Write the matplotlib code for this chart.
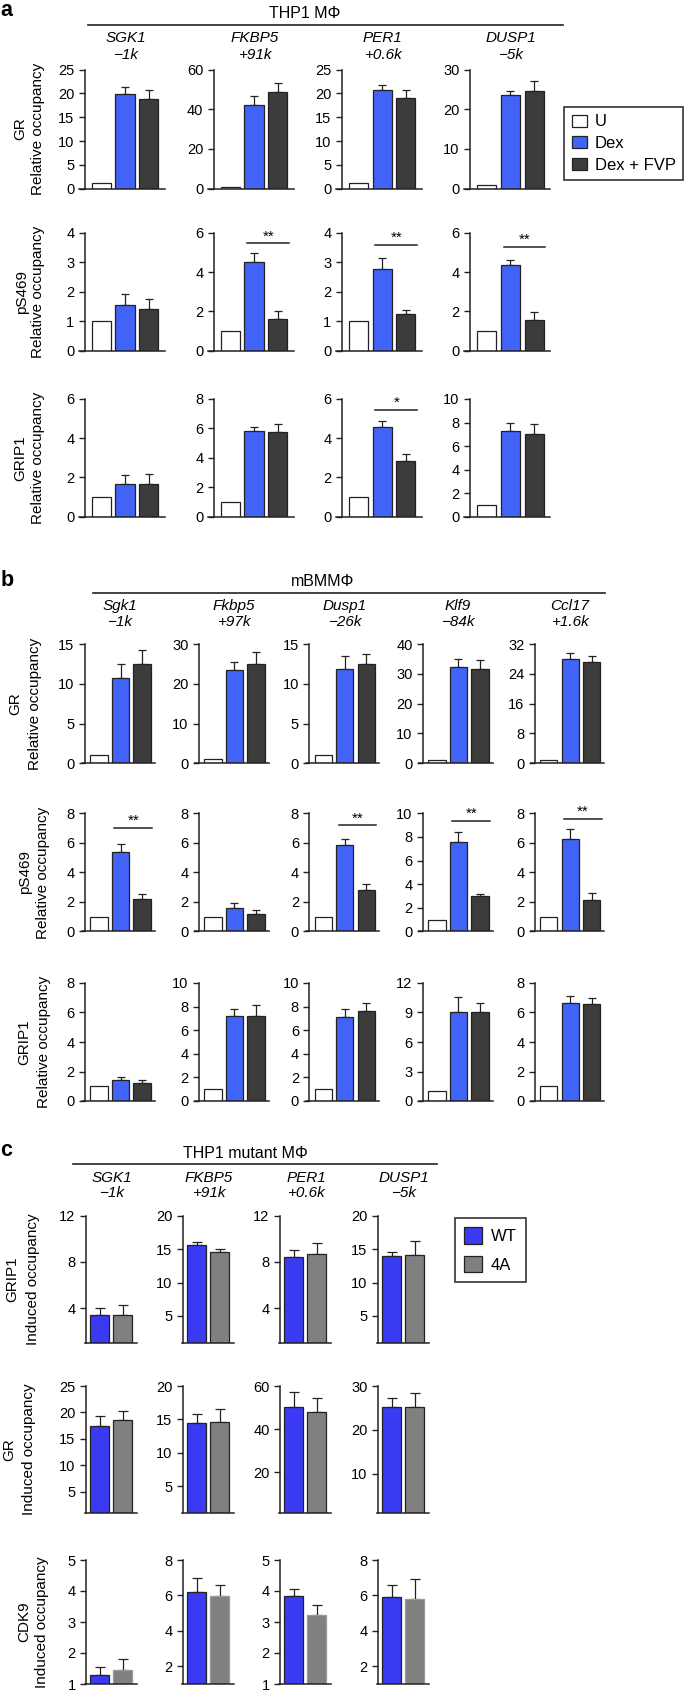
import numpy as np
import matplotlib.pyplot as plt
from matplotlib.patches import Patch
from matplotlib.lines import Line2D

plt.rcParams['font.family'] = ['Liberation Sans', 'DejaVu Sans']

# ---------------- data ----------------
a_treat = ['U', 'Dex', 'Dex + FVP']
c_treat = ['WT', '4A']

# panel a: THP1 macrophages, values per gene = [U, Dex, Dex + FVP]
a_genes = ['SGK1', 'FKBP5', 'PER1', 'DUSP1']
a_sites = ['\u22121k', '+91k', '+0.6k', '\u22125k']
a_rows = ['GR', 'pS469', 'GRIP1']

a_gr = [[1.1, 19.8, 18.8], [1.0, 42.3, 48.5], [1.1, 20.8, 19.0], [1.0, 23.6, 24.5]]
a_gr_err = [[0, 1.6, 2.0], [0, 4.2, 4.7], [0, 0.85, 1.75], [0, 1.1, 2.6]]
a_gr_ticks = [[0, 5, 10, 15, 20, 25], [0, 20, 40, 60], [0, 5, 10, 15, 20, 25], [0, 10, 20, 30]]

a_ps = [[1.0, 1.55, 1.41], [1.0, 4.5, 1.61], [1.0, 2.78, 1.23], [1.0, 4.34, 1.56]]
a_ps_err = [[0, 0.36, 0.33], [0, 0.45, 0.41], [0, 0.35, 0.15], [0, 0.27, 0.41]]
a_ps_ticks = [[0, 1, 2, 3, 4], [0, 2, 4, 6], [0, 1, 2, 3, 4], [0, 2, 4, 6]]

a_grip = [[1.0, 1.65, 1.65], [1.0, 5.8, 5.76], [1.0, 4.56, 2.86], [1.0, 7.3, 7.05]]
a_grip_err = [[0, 0.48, 0.51], [0, 0.3, 0.54], [0, 0.32, 0.34], [0, 0.65, 0.85]]
a_grip_ticks = [[0, 2, 4, 6], [0, 2, 4, 6, 8], [0, 2, 4, 6], [0, 2, 4, 6, 8, 10]]

# significance: (row, gene, bar height, label)
a_sig = [(1, 1, 5.46, '**'), (1, 2, 3.59, '**'), (1, 3, 5.27, '**'), (2, 2, 5.44, '*')]

# panel b: mouse BMDM
b_genes = ['Sgk1', 'Fkbp5', 'Dusp1', 'Klf9', 'Ccl17']
b_sites = ['\u22121k', '+97k', '\u221226k', '\u221284k', '+1.6k']

b_gr = [[1.0, 10.7, 12.5], [1.0, 23.4, 25.0], [1.0, 11.8, 12.5], [1.0, 32.4, 31.6], [1.0, 28.0, 27.2]]
b_gr_err = [[0, 1.76, 1.7], [0, 2.1, 3.1], [0, 1.7, 1.3], [0, 2.5, 3.1], [0, 1.7, 1.5]]
b_gr_ticks = [[0, 5, 10, 15], [0, 10, 20, 30], [0, 5, 10, 15], [0, 10, 20, 30, 40], [0, 8, 16, 24, 32]]

b_ps = [[1.0, 5.39, 2.18], [1.0, 1.59, 1.2], [1.0, 5.84, 2.82], [1.0, 7.56, 3.04], [1.0, 6.27, 2.14]]
b_ps_err = [[0, 0.54, 0.37], [0, 0.34, 0.25], [0, 0.39, 0.38], [0, 0.86, 0.12], [0, 0.68, 0.46]]
b_ps_ticks = [[0, 2, 4, 6, 8], [0, 2, 4, 6, 8], [0, 2, 4, 6, 8], [0, 2, 4, 6, 8, 10], [0, 2, 4, 6, 8]]

b_grip = [[1.0, 1.42, 1.22], [1.0, 7.18, 7.2], [1.0, 7.15, 7.66], [1.0, 9.1, 9.0], [1.0, 6.64, 6.6]]
b_grip_err = [[0, 0.22, 0.18], [0, 0.59, 0.9], [0, 0.68, 0.64], [0, 1.5, 1.0], [0, 0.48, 0.38]]
b_grip_ticks = [[0, 2, 4, 6, 8], [0, 2, 4, 6, 8, 10], [0, 2, 4, 6, 8, 10], [0, 3, 6, 9, 12], [0, 2, 4, 6, 8]]

b_sig = [(1, 0, 7.0, '**'), (1, 2, 7.18, '**'), (1, 3, 9.33, '**'), (1, 4, 7.6, '**')]

# panel c: THP1 mutant macrophages, values per gene = [WT, 4A]
c_genes = ['SGK1', 'FKBP5', 'PER1', 'DUSP1']
c_sites = ['\u22121k', '+91k', '+0.6k', '\u22125k']
c_rows = ['GRIP1', 'GR', 'CDK9']

c_grip = [[3.4, 3.37], [15.6, 14.55], [8.43, 8.7], [14.0, 14.1]]
c_grip_err = [[0.57, 0.89], [0.5, 0.5], [0.57, 0.97], [0.55, 2.14]]
c_grip_ticks = [[4, 8, 12], [5, 10, 15, 20], [4, 8, 12], [5, 10, 15, 20]]

c_gr = [[17.4, 18.5], [14.4, 14.55], [50.2, 48.0], [25.3, 25.2]]
c_gr_err = [[1.85, 1.8], [1.35, 2.05], [7.0, 6.3], [1.9, 3.3]]
c_gr_ticks = [[5, 10, 15, 20, 25], [5, 10, 15, 20], [20, 40, 60], [10, 20, 30]]

c_cdk = [[1.28, 1.46], [6.17, 5.96], [3.84, 3.22], [5.89, 5.8]]
c_cdk_err = [[0.26, 0.34], [0.8, 0.64], [0.22, 0.32], [0.71, 1.12]]
c_cdk_ticks = [[1, 2, 3, 4, 5], [2, 4, 6, 8], [1, 2, 3, 4, 5], [2, 4, 6, 8]]

# ---------------- figure ----------------
W, H = 693, 1693
fig = plt.figure(figsize=(W / 100, H / 100), dpi=100)

ink = '#222222'
col_a = ['white', '#4163f8', '#3c3c3c']
col_c = ['#3a3af2', '#808080']


def px_axes(l, t, r, b):
    return fig.add_axes([l / W, 1 - b / H, (r - l) / W, (b - t) / H])


def ftext(x, y, s, **kw):
    return fig.text(x / W, 1 - y / H, s, **kw)


def hline(x0, x1, y):
    fig.add_artist(Line2D([x0 / W, x1 / W], [1 - y / H] * 2, transform=fig.transFigure,
                          color=ink, lw=1.2))


def draw_row(lefts, top, bottom, width, first, pitch, spine_off, means, errs, ticks,
             colors, edges, ymin=0, bw=0.8, cap=3.2):
    axes = []
    for i, L in enumerate(lefts):
        ax = px_axes(L, top, L + width, bottom)
        m = np.array(means[i], float)
        e = np.array(errs[i], float)
        x = np.arange(len(m))
        ax.bar(x, m, width=bw, color=colors, edgecolor=edges, linewidth=0.9, zorder=2)
        k = e > 0
        ax.errorbar(x[k], m[k], yerr=[np.zeros(k.sum()), e[k]], fmt='none', ecolor=ink,
                    elinewidth=0.9, capsize=cap, capthick=0.9, zorder=1)
        x0 = -first / pitch
        ax.set_xlim(x0, x0 + width / pitch)
        ax.set_ylim(ymin, ticks[i][-1])
        ax.set_yticks(ticks[i])
        ax.spines[['top', 'right']].set_visible(False)
        ax.spines['left'].set_position(('data', x0 + spine_off / pitch))
        for s in ('left', 'bottom'):
            ax.spines[s].set_linewidth(1.1)
            ax.spines[s].set_color(ink)
        ax.tick_params(axis='x', bottom=False, labelbottom=False)
        ax.tick_params(axis='y', direction='out', length=4.5, width=1.0, color=ink,
                       labelsize=10.5, pad=3)
        ax.patch.set_visible(False)
        axes.append(ax)
    return axes


def sig_mark(ax, y, label, x0=0.72, x1=2.47):
    ax.plot([x0, x1], [y, y], color=ink, lw=1.1, clip_on=False)
    ax.annotate(label, xy=((x0 + x1) / 2, y), xytext=(0, 0), textcoords='offset points',
                ha='center', va='bottom', fontsize=11, annotation_clip=False)


def row_label(x1, x2, yc, name, sub):
    ftext(x1, yc, name, rotation=90, ha='center', va='center', fontsize=11)
    ftext(x2, yc, sub, rotation=90, ha='center', va='center', fontsize=11)


def panel_letter(x, y, s):
    ftext(x, y, s, fontsize=15.5, weight='bold', ha='left', va='baseline')


# ---------------- panel a ----------------
a_left = [78.7, 207.7, 335.8, 464.0]
a_rowpos = [(69.5, 188.7), (232.7, 350.7), (399.0, 516.7)]
a_data = [(a_gr, a_gr_err, a_gr_ticks), (a_ps, a_ps_err, a_ps_ticks),
          (a_grip, a_grip_err, a_grip_ticks)]
a_axes = []
for (t, b), (m, e, tk) in zip(a_rowpos, a_data):
    a_axes.append(draw_row(a_left, t, b, 86, 22.5, 23.8, 6, m, e, tk, col_a, ink))
for r, g, y, lab in a_sig:
    sig_mark(a_axes[r][g], y, lab)

panel_letter(0.5, 16, 'a')
ftext(305, 13.5, 'THP1 M\u03a6', fontsize=11.5, ha='center', va='center')
hline(87.5, 563, 25)
for L, g, s in zip(a_left, a_genes, a_sites):
    ftext(L + 47, 38, g, fontsize=11, style='italic', ha='center', va='center')
    ftext(L + 47, 55, s, fontsize=11, style='italic', ha='center', va='center')
for (t, b), name, xs in zip(a_rowpos, a_rows, [(20, 38.4), (22, 38.5), (20, 38.5)]):
    row_label(xs[0], xs[1], (t + b) / 2, name, 'Relative occupancy')

leg = fig.legend([Patch(facecolor=c, edgecolor=ink, linewidth=0.9) for c in col_a], a_treat,
                 loc='upper left', bbox_to_anchor=(564 / W, 1 - 107 / H), fontsize=12,
                 frameon=True, fancybox=False, edgecolor='black', borderaxespad=0,
                 handlelength=0.95, handleheight=0.75, handletextpad=0.45,
                 labelspacing=0.4, borderpad=0.45)
leg.get_frame().set_linewidth(1.2)

# ---------------- panel b ----------------
b_spine = [85.0, 198.9, 309.3, 423.0, 534.7]
b_left = [s - 3.5 for s in b_spine]
b_rowpos = [(644.0, 763.3), (813.3, 931.5), (983.0, 1101.0)]
b_data = [(b_gr, b_gr_err, b_gr_ticks), (b_ps, b_ps_err, b_ps_ticks),
          (b_grip, b_grip_err, b_grip_ticks)]
b_axes = []
for (t, b), (m, e, tk) in zip(b_rowpos, b_data):
    b_axes.append(draw_row(b_left, t, b, 73.2, 17.5, 21.5, 3.5, m, e, tk, col_a, ink))
for r, g, y, lab in b_sig:
    sig_mark(b_axes[r][g], y, lab)

panel_letter(0.5, 586, 'b')
ftext(322.6, 582, 'mBMM\u03a6', fontsize=11.5, ha='center', va='center')
hline(93, 604.5, 593.3)
for S, g, s in zip(b_spine, b_genes, b_sites):
    ftext(S + 35, 606, g, fontsize=11, style='italic', ha='center', va='center')
    ftext(S + 35, 621.7, s, fontsize=11, style='italic', ha='center', va='center')
for (t, b), name, xs in zip(b_rowpos, a_rows, [(15.5, 35.4), (25, 43.3), (24.3, 44.2)]):
    row_label(xs[0], xs[1], (t + b) / 2, name, 'Relative occupancy')

# ---------------- panel c ----------------
c_spine = [86.0, 183.0, 280.0, 378.0]
c_left = [s - 1 for s in c_spine]
c_rowpos = [(1215.7, 1342.7), (1386.0, 1513.0), (1560.0, 1684.0)]
c_data = [(c_grip, c_grip_err, c_grip_ticks), (c_gr, c_gr_err, c_gr_ticks),
          (c_cdk, c_cdk_err, c_cdk_ticks)]
c_edges = [[ink, ink], [ink, ink], [ink, '#9a9a9a']]
for (t, b), (m, e, tk), ed in zip(c_rowpos, c_data, c_edges):
    draw_row(c_left, t, b, 51.5, 14.5, 23.3, 1, m, e, tk, col_c, ed, ymin=1, bw=0.82, cap=3.8)

panel_letter(0.5, 1156.5, 'c')
ftext(245, 1153.3, 'THP1 mutant M\u03a6', fontsize=11.5, ha='center', va='center')
hline(73, 437.5, 1164.3)
for S, g, s in zip(c_spine, c_genes, c_sites):
    ftext(S + 26, 1178.3, g, fontsize=11, style='italic', ha='center', va='center')
    ftext(S + 26, 1193.3, s, fontsize=11, style='italic', ha='center', va='center')
for (t, b), name, xs in zip(c_rowpos, c_rows, [(12.4, 33), (9.7, 28.7), (24, 41.7)]):
    row_label(xs[0], xs[1], (t + b) / 2, name, 'Induced occupancy')

leg_c = fig.legend([Patch(facecolor=c, edgecolor=ink, linewidth=0.9) for c in col_c], c_treat,
                   loc='upper left', bbox_to_anchor=(455 / W, 1 - 1218.3 / H), fontsize=12,
                   frameon=True, fancybox=False, edgecolor='black', borderaxespad=0,
                   handlelength=1.08, handleheight=1.12, handletextpad=0.5,
                   labelspacing=0.7, borderpad=0.55)
leg_c.get_frame().set_linewidth(1.2)

fig.savefig('out.png', dpi=100)
